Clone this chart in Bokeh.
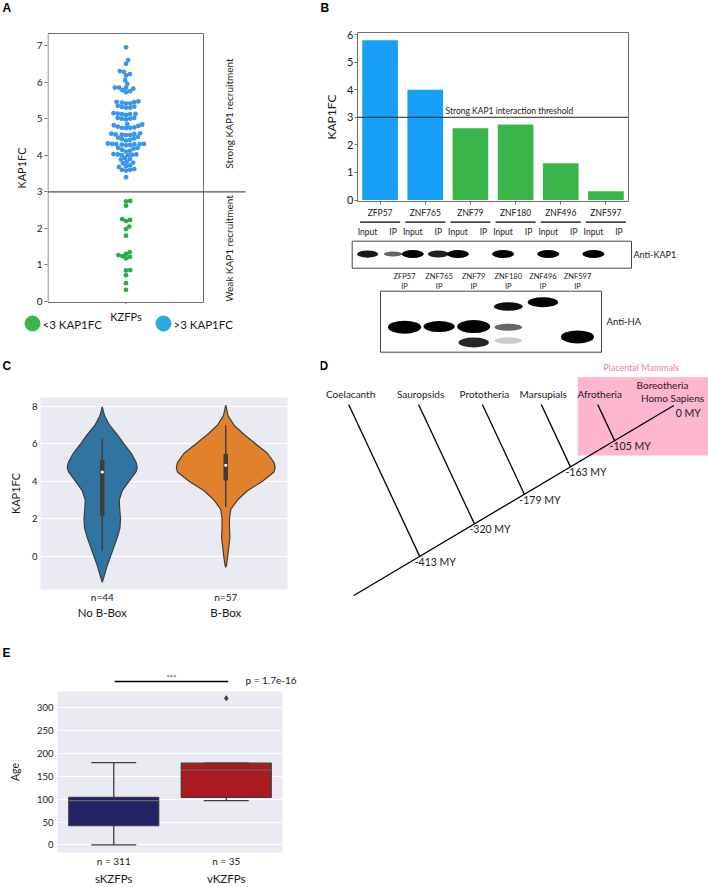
import numpy as np
from bokeh.plotting import figure
from bokeh.models import (Range1d, FactorRange, Span, Label, LinearAxis, FixedTicker)
from bokeh.layouts import row, column
from bokeh.core.properties import value
from bokeh.embed import file_html
from bokeh.resources import INLINE

# ------------------------------------------------------------------ data
# Panel A : KAP1 fold change of each KZFP (swarm)
kap1fc_values = [
    6.95, 6.6, 6.5, 6.3, 6.28, 6.22, 6.18, 6.05, 5.95, 5.85, 5.85, 5.84, 5.82, 5.78, 5.75, 5.72,
    5.47, 5.46, 5.45, 5.44, 5.42, 5.42, 5.35, 5.33, 5.32, 5.3, 5.3,
    5.15, 5.14, 5.13, 5.12, 5.12, 5.1, 5.02, 5.0, 5.0, 4.98, 5.02,
    4.85, 4.84, 4.82, 4.8, 4.78, 4.76, 4.75, 4.75, 4.74,
    4.6, 4.59, 4.58, 4.57, 4.56, 4.55, 4.55, 4.5, 4.48, 4.46, 4.44, 4.42, 4.4,
    4.32, 4.31, 4.31, 4.3, 4.3, 4.3, 4.29, 4.28, 4.27, 4.2, 4.2, 4.18, 4.15, 4.12, 4.1,
    4.03, 4.02, 4.02, 4.01, 4.0, 4.0, 3.92, 3.9, 3.88,
    3.82, 3.8, 3.78, 3.72, 3.7, 3.68, 3.62, 3.6, 3.6, 3.58, 3.4,
    2.75, 2.74, 2.62, 2.25, 2.23, 2.2, 2.05, 1.98, 1.8, 1.35, 1.3, 1.27, 1.24,
    1.22, 1.18, 0.86, 0.85, 0.72, 0.5, 0.32]
kap1_threshold = 3
a_ticks = [0, 1, 2, 3, 4, 5, 6, 7]
a_category = "KZFPs"
a_legend = ["<3 KAP1FC", ">3 KAP1FC"]
a_side_text = ["Strong KAP1 recruitment", "Weak KAP1 recruitment"]

# Panel B : selected KZFPs
b_genes = ["ZFP57", "ZNF765", "ZNF79", "ZNF180", "ZNF496", "ZNF597"]
b_kap1fc = [5.79, 4.0, 2.6, 2.74, 1.33, 0.32]
b_ticks = [0, 1, 2, 3, 4, 5, 6]
kap1_input_intensity = [0.85, 1.0, 1.0, 1.0, 1.0, 1.0]
kap1_ip_intensity = [0.4, 0.8, 0.0, 0.0, 0.0, 0.0]
ha_band_lane = [0, 1, 2, 2, 3, 3, 3, 4, 5]
ha_band_migration = [0.59, 0.58, 0.58, 0.84, 0.25, 0.59, 0.81, 0.18, 0.75]
ha_band_intensity = [1.0, 1.0, 1.0, 0.85, 0.95, 0.6, 0.2, 1.0, 1.0]
ha_band_strength = [1.0, 0.8, 1.0, 0.7, 0.55, 0.4, 0.35, 0.7, 1.0]

# Panel C : violins
c_groups = ["No B-Box", "B-Box"]
c_n = [44, 57]
c_left_levels = [-1.39, -1.0, -0.5, 0, 0.5, 1, 1.5, 2, 2.5, 3, 3.5, 4, 4.5, 4.75, 5,
                 5.5, 6, 6.5, 7, 7.5, 7.98]
c_left_density = [0, .047, .10, .168, .237, .304, .358, .370, .354, .344, .405, .540,
                  .682, .709, .688, .587, .439, .304, .148, .047, 0]
c_right_levels = [-0.59, -0.5, 0, 0.5, 1, 1.5, 2, 2.5, 3, 3.5, 4, 4.5, 4.75, 5, 5.5,
                  6, 6.5, 7, 7.5, 8.07]
c_right_density = [0, .014, .04, .061, .085, .075, .075, .101, .237, .439, .743, .978,
                   1.0, .978, .844, .607, .370, .168, .047, 0]
c_whisk_lo = [0.3, 2.63]
c_whisk_hi = [6.29, 7.0]
c_q1 = [2.18, 4.05]
c_q3 = [5.16, 5.48]
c_median = [4.5, 4.86]
c_ticks = [0, 2, 4, 6, 8]

# Panel D : phylogeny
d_clades = ["Coelacanth", "Sauropsids", "Prototheria", "Marsupials", "Afrotheria"]
d_divergence_my = [-413, -320, -179, -163, -105]
d_root_labels = ["Boreotheria", "Homo Sapiens"]
d_root_my = 0
d_group = "Placental Mammals"

# Panel E : boxplots of age
e_groups = ["sKZFPs", "vKZFPs"]
e_n = [311, 35]
e_q1 = [42, 104]
e_median = [97, 164]
e_q3 = [104, 179]
e_whisk_lo = [0, 97]
e_whisk_hi = [180, 179]
e_outlier_group = [1]
e_outlier_age = [321]
e_pvalue = "p = 1.7e-16"
e_stars = "***"
e_ticks = [0, 50, 100, 150, 200, 250, 300]

# ------------------------------------------------------------------ styles
FONT = "Lato"
LFONT = "Liberation Sans"
TXT = "#1a1a1a"
GRAY = "#6e6e6e"
A_BLUE, A_GREEN = "#3897EC", "#22AF4A"
L_BLUE, L_GREEN = "#2AA8E4", "#3CB44B"
B_BLUE, B_GREEN = "#18A0F8", "#3AB54A"
SNS_BG = "#EAEAF2"
V_COLORS = ["#3274A1", "#E1812C"]
V_EDGE = "#3d3d3d"
E_COLORS = ["#232264", "#A91B20"]
PINK_BOX, PINK_TXT = "#FFB6CE", "#F07BBE"


def fig(**kw):
    return figure(output_backend="svg", toolbar_location=None, frame_align=False, **kw)


def blank(w, h, xr, yr):
    """A canvas whose data units are page pixels (x right, y down)."""
    p = fig(width=w, height=h, x_range=Range1d(*xr), y_range=Range1d(*yr),
            x_axis_type=None, y_axis_type=None, min_border=0, min_border_left=0,
            min_border_right=0, min_border_top=0, min_border_bottom=0)
    p.outline_line_color = None
    return p


def txt(p, x, y, t, size, align="center", color=TXT, font=FONT, style="normal", angle=0):
    p.text(x=x, y=y, text=t, text_align=align, text_baseline="middle",
           text_font=value(font), text_font_size=size, text_color=color,
           text_font_style=style, angle=angle)


def letter_strip(w, h, x0, y0, letter_x, letter_y, letter):
    s = blank(w, h, (x0, x0 + w), (y0 + h, y0))
    txt(s, [letter_x], [letter_y], [letter], "12px", align="left", color="black",
        font=LFONT, style="bold")
    return s


def style_axis(ax, size, color=TXT):
    ax.axis_line_color = None
    ax.minor_tick_out = 0
    ax.minor_tick_in = 0
    ax.major_label_text_font = FONT
    ax.major_label_text_font_size = size
    ax.major_label_text_color = color
    ax.axis_label_text_font = FONT
    ax.axis_label_text_font_style = "normal"
    ax.axis_label_text_color = color


# ------------------------------------------------------------------ Panel A
sA = letter_strip(308, 24, 0, 0, 2, 7.5, "A")

A_PPU = 36.57          # px per KAP1FC unit
A_Y0 = 301             # page y of value 0
a_top = (A_Y0 - 31) / A_PPU
a_bot = (A_Y0 - 304) / A_PPU
pA = fig(width=308, height=285, x_range=Range1d(-78.5, 182.5), y_range=Range1d(a_bot, a_top),
         x_axis_type=None, min_border_left=47, min_border_right=0, min_border_top=7,
         min_border_bottom=5)
pA.outline_line_color = None
pA.grid.visible = False
ay = pA.yaxis[0]
ay.ticker = FixedTicker(ticks=a_ticks)
style_axis(ay, "10px")
ay.major_tick_out = 3
ay.major_tick_in = 0
ay.major_tick_line_color = GRAY
ay.major_label_standoff = 2
ay.axis_label = "KAP1FC"
ay.axis_label_text_font_size = "11px"
ay.axis_label_standoff = 6

# swarm layout (pixel offsets from the category centre)
vals = np.array(kap1fc_values)
D = 4.2
order = np.argsort(vals)
placed = []
xs = np.zeros(len(vals))
for i in order:
    y = vals[i] * A_PPU
    cands = [0.0]
    for (px, py) in placed:
        dy = y - py
        if abs(dy) < D:
            dx = np.sqrt(D * D - dy * dy)
            cands += [px + dx, px - dx]
    cands.sort(key=abs)
    chosen = 0.0
    for c in cands:
        if all((c - px) ** 2 + (y - py) ** 2 >= D * D - 1e-6 for px, py in placed):
            chosen = c
            break
    xs[i] = chosen
    placed.append((chosen, y))
cols = [A_BLUE if v > kap1_threshold else A_GREEN for v in vals]

box_b = (A_Y0 - 302) / A_PPU
box_t = (A_Y0 - 33) / A_PPU
pA.quad(left=-78, right=77.5, bottom=box_b, top=box_t, fill_color=None,
        line_color=GRAY, line_width=1)
pA.segment(x0=-78, y0=kap1_threshold, x1=119.5, y1=kap1_threshold,
           line_color="#555555", line_width=1.2)
pA.scatter(x=xs, y=vals, size=4.8, fill_color=cols, line_color=None)
txt(pA, [103, 103], [(A_Y0 - 113) / A_PPU, (A_Y0 - 248) / A_PPU], a_side_text, "10px",
    angle=np.pi / 2)
pA.segment(x0=0, y0=box_b, x1=0, y1=a_bot, line_color=GRAY, line_width=1)

# legend strip (page px)
pAl = blank(308, 46, (0, 308), (355, 309))
txt(pAl, [125.5], [315.5], [a_category], "11px")
pAl.scatter(x=[32, 163], y=[323, 323], size=15, color=[L_GREEN, L_BLUE])
txt(pAl, [42, 173], [323.5, 323.5], a_legend, "11.5px", align="left")

# ------------------------------------------------------------------ Panel B bars
sB = letter_strip(400, 24, 308, 0, 320, 7.5, "B")
B_LEFT, B_W_FRAME = 357, 271
pB = fig(width=400, height=196, x_range=FactorRange(*b_genes),
         y_range=Range1d(-0.054, 6.075), min_border_left=49, min_border_right=80,
         min_border_top=8, min_border_bottom=17)
pB.outline_line_color = GRAY
pB.grid.visible = False
b_cols = [B_BLUE if v > kap1_threshold else B_GREEN for v in b_kap1fc]
pB.vbar(x=b_genes, top=b_kap1fc, width=0.79, fill_color=b_cols, line_color=None)
pB.add_layout(Span(location=kap1_threshold, dimension="width", line_color="#222222",
                   line_width=1))
pB.add_layout(Label(x=(445 - B_LEFT) / (B_W_FRAME / 6), y=kap1_threshold + 0.23,
                    text="Strong KAP1 interaction threshold", text_font=FONT,
                    text_font_size="8.5px", text_color=TXT, text_baseline="middle"))
by = pB.yaxis[0]
by.ticker = FixedTicker(ticks=b_ticks)
style_axis(by, "11px")
by.major_tick_out = 3
by.major_tick_in = 0
by.major_tick_line_color = GRAY
by.major_label_standoff = 1
by.axis_label = "KAP1FC"
by.axis_label_text_font_size = "12px"
by.axis_label_standoff = 5
bx = pB.xaxis[0]
style_axis(bx, "8.5px")
bx.major_tick_out = 3
bx.major_tick_in = 0
bx.major_tick_line_color = GRAY
bx.major_label_standoff = 3

# blots (page px)
pBl = blank(400, 135, (308, 708), (355, 220))
gene_c = [B_LEFT + B_W_FRAME * (i + 0.5) / 6 for i in range(len(b_genes))]
pBl.segment(x0=[c - 20 for c in gene_c], y0=221.7, x1=[c + 20 for c in gene_c], y1=221.7,
            line_color="black", line_width=1.3)
in_x = [c - 12.5 for c in gene_c]
ip_x = [c + 13 for c in gene_c]
txt(pBl, in_x, [231.7] * 6, ["Input"] * 6, "8.5px")
txt(pBl, ip_x, [231.7] * 6, ["IP"] * 6, "8.5px")
pBl.quad(left=351.7, right=631, top=240.7, bottom=267.7, fill_color="white",
         line_color="#444444", line_width=1)
band_y = 253.5
for xv, inten in [(in_x, kap1_input_intensity), (ip_x, kap1_ip_intensity)]:
    keep = [i for i, t in enumerate(inten) if t > 0]
    pBl.ellipse(x=[xv[i] for i in keep], y=band_y, width=[16 + 6 * inten[i] for i in keep],
                height=[3 + 5 * inten[i] for i in keep], fill_color="black",
                fill_alpha=[0.35 + 0.65 * inten[i] for i in keep], line_color=None)
txt(pBl, [633], [254], ["Anti-KAP1"], "9px", align="left")
HA_L, HA_R, HA_T, HA_B = 380, 601, 290.7, 351.7
ha_c = [HA_L + 24 + 34.6 * j for j in range(len(b_genes))]
txt(pBl, ha_c, [276] * 6, b_genes, "7.5px")
txt(pBl, ha_c, [285.5] * 6, ["IP"] * 6, "7.5px")
pBl.quad(left=HA_L, right=HA_R, top=HA_T, bottom=HA_B, fill_color="white",
         line_color="#444444", line_width=1)
pBl.ellipse(x=[ha_c[l] for l in ha_band_lane],
            y=[HA_T + m * (HA_B - HA_T) for m in ha_band_migration],
            width=[24 + 9 * s for s in ha_band_strength],
            height=[3 + 10 * s for s in ha_band_strength],
            fill_color="black", fill_alpha=ha_band_intensity, line_color=None)
txt(pBl, [606], [321], ["Anti-HA"], "9.5px", align="left")

# ------------------------------------------------------------------ Panel C violins
sC = letter_strip(320, 30, 0, 355, 2, 365.5, "C")
pC = fig(width=320, height=240, x_range=Range1d(-0.5, 1.5), y_range=Range1d(-1.78, 8.48),
         min_border_left=40, min_border_right=33, min_border_top=12, min_border_bottom=36)
pC.background_fill_color = SNS_BG
pC.outline_line_color = None
pC.xgrid.visible = False
pC.ygrid.ticker = FixedTicker(ticks=c_ticks)
pC.ygrid.grid_line_color = "white"
pC.ygrid.grid_line_width = 1
cy = pC.yaxis[0]
cy.ticker = FixedTicker(ticks=c_ticks)
style_axis(cy, "9.5px")
cy.major_tick_out = 0
cy.major_tick_in = 0
cy.major_label_standoff = 3
cy.axis_label = "KAP1FC"
cy.axis_label_text_font_size = "11px"
cy.axis_label_standoff = 7
cx = pC.xaxis[0]
cx.ticker = FixedTicker(ticks=[0, 1])
cx.major_label_overrides = {i: f"n={n}" for i, n in enumerate(c_n)}
style_axis(cx, "10px")
cx.major_tick_out = 0
cx.major_tick_in = 0
cx.major_label_standoff = 1
cx2 = LinearAxis(ticker=FixedTicker(ticks=[0, 1]),
                 major_label_overrides={i: g for i, g in enumerate(c_groups)})
style_axis(cx2, "11.5px")
cx2.major_tick_out = 0
cx2.major_tick_in = 0
cx2.major_label_standoff = 0
pC.add_layout(cx2, "below")
for i, (lv, dn) in enumerate([(c_left_levels, c_left_density),
                              (c_right_levels, c_right_density)]):
    lv = np.array(lv)
    dn = np.array(dn) * 0.4
    px_ = np.concatenate([i + dn, (i - dn)[::-1]])
    py_ = np.concatenate([lv, lv[::-1]])
    pC.patch(px_, py_, fill_color=V_COLORS[i], line_color=V_EDGE, line_width=1.2)
pC.segment(x0=[0, 1], y0=c_whisk_lo, x1=[0, 1], y1=c_whisk_hi, line_color=V_EDGE,
           line_width=1.4)
pC.segment(x0=[0, 1], y0=c_q1, x1=[0, 1], y1=c_q3, line_color=V_EDGE, line_width=4.5)
pC.scatter(x=[0, 1], y=c_median, size=3.2, fill_color="white", line_color=None)

# ------------------------------------------------------------------ Panel D phylogeny (page px)
pD = blank(388, 270, (320, 708), (625, 355))
T0 = (353.3, 595.0)
T1 = (673.3, 405.0)
node_t = [0.206, 0.377, 0.533, 0.677, 0.815]
TIP_Y = 404.0
SLANT = 0.468
pD.quad(left=577.3, right=708, top=376.7, bottom=455, fill_color=PINK_BOX, line_color=None)
txt(pD, [640.7], [366.7], [d_group], "9px", color=PINK_TXT)
nx = [T0[0] + t * (T1[0] - T0[0]) for t in node_t]
ny = [T0[1] + t * (T1[1] - T0[1]) for t in node_t]
tx = [x - SLANT * (y - TIP_Y) for x, y in zip(nx, ny)]
pD.segment(x0=[T0[0]], y0=[T0[1]], x1=[T1[0]], y1=[T1[1]], line_color="black",
           line_width=1.3)
pD.segment(x0=nx, y0=ny, x1=tx, y1=[TIP_Y] * len(tx), line_color="black", line_width=1.3)
txt(pD, [x + 2 for x in tx], [393.3] * len(tx), d_clades, "10px")
txt(pD, [x - 5 for x in nx], [y + 5.5 for y in ny],
    [f"{m} MY" for m in d_divergence_my], "10.5px", align="left")
txt(pD, [T1[0] + 2], [T1[1] + 7], [f"{d_root_my} MY"], "10.5px", align="left")
txt(pD, [662], [384], [d_root_labels[0]], "10px")
txt(pD, [672], [397.3], [d_root_labels[1]], "10px")
txt(pD, [319], [365.5], ["D"], "12px", align="left", color="black", font=LFONT, style="bold")

# ------------------------------------------------------------------ Panel E boxplots
E_LEFT, E_W_FRAME = 57, 225
sE = letter_strip(320, 61, 0, 625, 2, 652, "E")
gcx = [E_LEFT + E_W_FRAME * (g + 0.5) / 2 for g in range(2)]
sE.segment(x0=[gcx[0] + 1], y0=[681], x1=[gcx[1] + 2], y1=[681], line_color="black",
           line_width=1.3)
txt(sE, [(gcx[0] + gcx[1]) / 2 + 1.5], [677.5], [e_stars], "8px", color="#555555")
txt(sE, [245], [679.5], [e_pvalue], "10px", align="left")

E_YR = (-16.6, 335.8)
pE = fig(width=320, height=201, x_range=Range1d(-0.5, 1.5), y_range=Range1d(*E_YR),
         min_border_left=57, min_border_right=38, min_border_top=5, min_border_bottom=32)
pE.background_fill_color = SNS_BG
pE.outline_line_color = None
pE.xgrid.visible = False
pE.ygrid.ticker = FixedTicker(ticks=e_ticks)
pE.ygrid.grid_line_color = "white"
ey = pE.yaxis[0]
ey.ticker = FixedTicker(ticks=e_ticks)
style_axis(ey, "9.5px")
ey.major_tick_out = 0
ey.major_tick_in = 0
ey.major_label_standoff = 4
ey.axis_label = "Age"
ey.axis_label_text_font_size = "10.5px"
ey.axis_label_standoff = 13
ex = pE.xaxis[0]
ex.ticker = FixedTicker(ticks=[0, 1])
ex.major_label_overrides = {i: f"n = {n}" for i, n in enumerate(e_n)}
style_axis(ex, "10px")
ex.major_tick_out = 0
ex.major_tick_in = 0
ex.major_label_standoff = 2
ex2 = LinearAxis(ticker=FixedTicker(ticks=[0, 1]),
                 major_label_overrides={i: g for i, g in enumerate(e_groups)})
style_axis(ex2, "11.5px")
ex2.major_tick_out = 0
ex2.major_tick_in = 0
ex2.major_label_standoff = 2
pE.add_layout(ex2, "below")
gx = [0, 1]
pE.segment(x0=gx, y0=e_q3, x1=gx, y1=e_whisk_hi, line_color=V_EDGE, line_width=1.3)
pE.segment(x0=gx, y0=e_q1, x1=gx, y1=e_whisk_lo, line_color=V_EDGE, line_width=1.3)
pE.segment(x0=[g - 0.2 for g in gx], y0=e_whisk_hi, x1=[g + 0.2 for g in gx], y1=e_whisk_hi,
           line_color=V_EDGE, line_width=1.3)
pE.segment(x0=[g - 0.2 for g in gx], y0=e_whisk_lo, x1=[g + 0.2 for g in gx], y1=e_whisk_lo,
           line_color=V_EDGE, line_width=1.3)
pE.vbar(x=gx, width=0.8, bottom=e_q1, top=e_q3, fill_color=E_COLORS, line_color=V_EDGE,
        line_width=1.2)
pE.segment(x0=[g - 0.4 for g in gx], y0=e_median, x1=[g + 0.4 for g in gx], y1=e_median,
           line_color="#6a6a6a", line_width=1.2)
pE.scatter(x=e_outlier_group, y=e_outlier_age, marker="diamond", size=5, color=V_EDGE)

# ------------------------------------------------------------------ layout
spacerE = blank(388, 262, (0, 1), (0, 1))
layout = column(
    row(column(sA, pA, pAl), column(sB, pB, pBl)),
    row(column(sC, pC), pD),
    row(column(sE, pE), spacerE),
)
open("out.html", "w").write(file_html(layout, INLINE, title="KAP1 recruitment by KZFPs"))
